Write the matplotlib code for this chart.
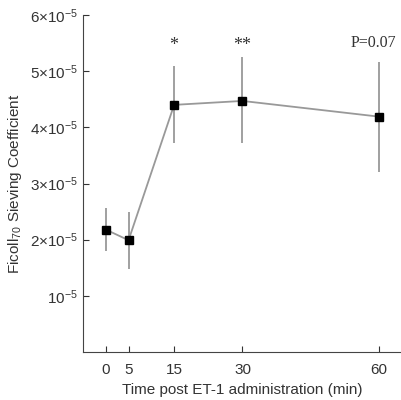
import matplotlib
matplotlib.use("Agg")
import matplotlib.pyplot as plt

time_min = [0, 5, 15, 30, 60]
sieving = [2.18e-5, 1.99e-5, 4.40e-5, 4.47e-5, 4.19e-5]
err_low = [1.80e-5, 1.47e-5, 3.72e-5, 3.72e-5, 3.21e-5]
err_high = [2.56e-5, 2.50e-5, 5.10e-5, 5.25e-5, 5.17e-5]
sig_labels = ["*", "**", "P=0.07"]
sig_x = [15, 30, 60]

ytick_vals = [1e-5, 2e-5, 3e-5, 4e-5, 5e-5, 6e-5]
ytick_labels = [r"$10^{-5}$", r"$2{\times}10^{-5}$", r"$3{\times}10^{-5}$",
                r"$4{\times}10^{-5}$", r"$5{\times}10^{-5}$", r"$6{\times}10^{-5}$"]

plt.rcParams['font.family'] = ['Liberation Sans', 'DejaVu Sans']
plt.rcParams['mathtext.fontset'] = 'custom'
plt.rcParams['mathtext.rm'] = 'Liberation Sans'
plt.rcParams['mathtext.it'] = 'Liberation Sans:italic'

fig = plt.figure(figsize=(4.01, 4.0), dpi=100)
ax = fig.add_axes([0.207, 0.12, 0.793, 0.8425])

yerr = [[s - l for s, l in zip(sieving, err_low)],
        [h - s for s, h in zip(sieving, err_high)]]
ax.errorbar(time_min, sieving, yerr=yerr, color='#999999', lw=1.3,
            elinewidth=1.3, capsize=0, marker='s', ms=6,
            mfc='black', mec='black', zorder=3)

# significance marks above the points
for x, lab in zip(sig_x, sig_labels):
    if lab.startswith('*'):
        ax.text(x, 5.45e-5, lab, ha='center', va='center', fontsize=13,
                family='Liberation Serif', color='#333333')
    else:
        ax.annotate(lab, (x, 5.5e-5), xytext=(-4, 0), textcoords='offset points',
                    ha='center', va='center', fontsize=11.5,
                    family='Liberation Serif', color='#333333')

ax.set_xlim(-5, 64.8)
ax.set_ylim(0, 6e-5)
ax.set_xticks(time_min)
ax.set_yticks(ytick_vals)
ax.set_yticklabels(ytick_labels)
ax.tick_params(direction='in', length=4, labelsize=11, colors='#333333')
ax.tick_params(axis='x', pad=8)
for side in ['top', 'right']:
    ax.spines[side].set_visible(False)
for side in ['left', 'bottom']:
    ax.spines[side].set_color('#444444')

ax.set_xlabel("Time post ET-1 administration (min)", fontsize=11, color='#333333')
ax.set_ylabel(r"Ficoll$_{70}$ Sieving Coefficient", fontsize=11, color='#333333')

fig.savefig("out.png", dpi=100)
